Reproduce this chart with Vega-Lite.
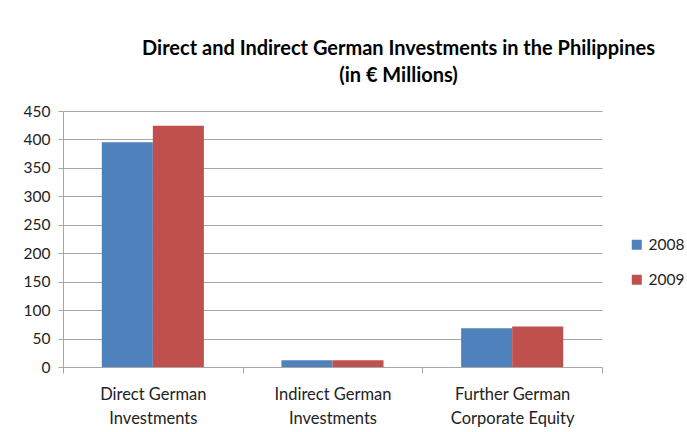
{
  "$schema": "https://vega.github.io/schema/vega-lite/v6.json",
  "autosize": {"type": "none"},
  "padding": {"left": 63, "top": 111, "right": 85, "bottom": 65},
  "width": 539,
  "height": 256,
  "background": "white",
  "data": {
    "values": [
      {"category": "Direct German|Investments", "year": "2008", "value": 395},
      {"category": "Direct German|Investments", "year": "2009", "value": 424},
      {"category": "Indirect German|Investments", "year": "2008", "value": 12},
      {"category": "Indirect German|Investments", "year": "2009", "value": 12},
      {"category": "Further German|Corporate Equity", "year": "2008", "value": 68},
      {"category": "Further German|Corporate Equity", "year": "2009", "value": 71}
    ]
  },
  "title": {
    "text": ["Direct and Indirect German Investments in the Philippines", "(in € Millions)"],
    "font": "Lato",
    "fontSize": 20,
    "fontWeight": "bold",
    "color": "#000000",
    "anchor": "middle",
    "dx": 66,
    "offset": 18,
    "lineHeight": 27
  },
  "config": {
    "view": {"stroke": null},
    "axis": {"labelFont": "Lato", "labelColor": "#222222", "labelFontSize": 15.5}
  },
  "mark": {"type": "bar"},
  "encoding": {
    "x": {
      "field": "category",
      "type": "nominal",
      "sort": null,
      "scale": {"paddingInner": 0, "paddingOuter": 0},
      "axis": {
        "title": null,
        "labelAngle": 0,
        "labelFontSize": 16.5,
        "labelExpr": "split(datum.label, '|')",
        "labelLineHeight": 24,
        "labelPadding": 13,
        "ticks": true,
        "tickBand": "extent",
        "tickSize": 6,
        "tickColor": "#A6A6A6",
        "domainColor": "#A6A6A6",
        "domainWidth": 1
      }
    },
    "xOffset": {
      "field": "year",
      "type": "nominal",
      "scale": {"paddingInner": 0, "paddingOuter": 0.76}
    },
    "y": {
      "field": "value",
      "type": "quantitative",
      "scale": {"domain": [0, 450], "nice": false},
      "axis": {
        "title": null,
        "values": [0, 50, 100, 150, 200, 250, 300, 350, 400, 450],
        "grid": true,
        "gridColor": "#A6A6A6",
        "gridWidth": 1,
        "domain": true,
        "domainColor": "#A6A6A6",
        "tickColor": "#A6A6A6",
        "tickSize": 5,
        "labelPadding": 8
      }
    },
    "color": {
      "field": "year",
      "type": "nominal",
      "scale": {"domain": ["2008", "2009"], "range": ["#4F81BD", "#C0504D"]},
      "legend": {
        "title": null,
        "orient": "none",
        "legendX": 566,
        "legendY": 126,
        "symbolType": "square",
        "symbolSize": 100,
        "symbolStrokeWidth": 0,
        "labelFont": "Lato",
        "labelFontSize": 15.5,
        "labelColor": "#222222",
        "rowPadding": 18,
        "labelOffset": 4
      }
    }
  }
}
